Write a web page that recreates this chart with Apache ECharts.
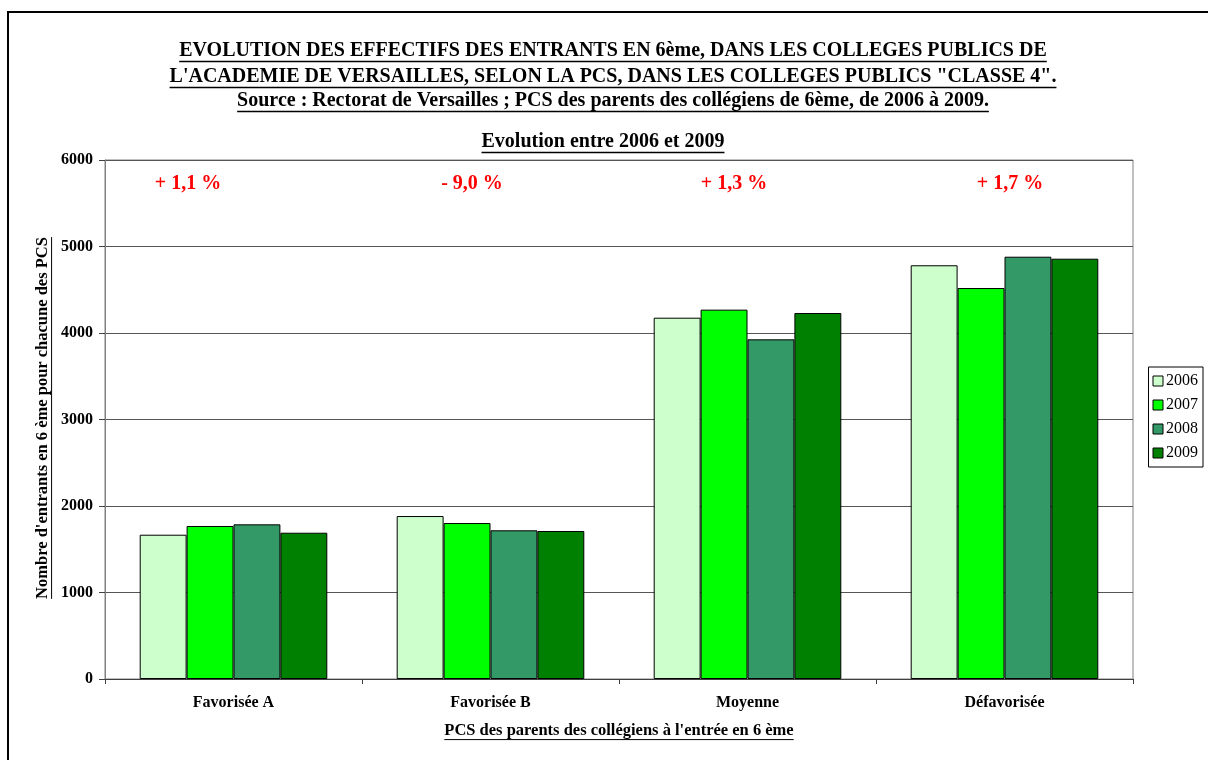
<!DOCTYPE html>
<html>
<head>
<meta charset="utf-8">
<script src="https://cdn.jsdelivr.net/npm/echarts@6/dist/echarts.min.js"></script>
<style>
  html, body { margin: 0; padding: 0; background: #fff; }
  #chart { width: 1208px; height: 760px; }
</style>
</head>
<body>
<div id="chart"></div>
<script>
// données
const categories = ['Favorisée A', 'Favorisée B', 'Moyenne', 'Défavorisée'];
const years = ['2006', '2007', '2008', '2009'];
const values2006 = [1668, 1884, 4177, 4783];
const values2007 = [1769, 1803, 4270, 4520];
const values2008 = [1788, 1719, 3927, 4882];
const values2009 = [1691, 1711, 4231, 4859];
const evolutions = ['+ 1,1 %', '- 9,0 %', '+ 1,3 %', '+ 1,7 %'];
const colors = ['#CCFFCC', '#00FF00', '#339966', '#008000'];

const FONT = '"Liberation Serif", "Times New Roman", serif';

const measureCtx = document.createElement('canvas').getContext('2d');
function textWidth(str, size) {
    measureCtx.font = 'bold ' + size + 'px ' + FONT;
    return measureCtx.measureText(str).width;
}

// texte souligné centré sur (cx, cy)
function underlined(str, cx, cy, size, rotation) {
    const w = textWidth(str, size);
    return {
        type: 'group',
        x: cx, y: cy,
        rotation: rotation || 0,
        children: [
            {
                type: 'text',
                style: {
                    text: str, x: 0, y: 0,
                    align: 'center', verticalAlign: 'middle',
                    font: 'bold ' + size + 'px ' + FONT,
                    fill: '#000'
                }
            },
            {
                type: 'line',
                shape: { x1: -w / 2, y1: size * 0.52, x2: w / 2, y2: size * 0.52 },
                style: { stroke: '#000', lineWidth: size >= 18 ? 1.5 : 1 }
            }
        ]
    };
}

const chart = echarts.init(document.getElementById('chart'));

const seriesData = [values2006, values2007, values2008, values2009];

const labelX = [188, 472, 734, 1010];

chart.setOption({
    backgroundColor: '#fff',
    animation: false,
    color: colors,
    grid: { left: 105, right: 75, top: 160, bottom: 81, show: true, borderColor: '#808080', borderWidth: 1 },
    legend: {
        orient: 'vertical',
        right: 5, top: 367,
        icon: 'rect',
        itemWidth: 10, itemHeight: 10, itemGap: 8,
        borderColor: '#000', borderWidth: 1,
        padding: [6, 5, 6, 4],
        textStyle: { fontFamily: FONT, fontSize: 16, color: '#000', padding: [0, 0, 0, -2] },
        data: years.map(y => ({ name: y, itemStyle: { borderColor: '#000', borderWidth: 1 } }))
    },
    xAxis: {
        type: 'category',
        data: categories,
        axisLine: { lineStyle: { color: '#404040', width: 1 } },
        axisTick: { show: true, length: 5, alignWithLabel: false, lineStyle: { color: '#404040' } },
        axisLabel: { fontFamily: FONT, fontWeight: 'bold', fontSize: 16, color: '#000', margin: 16 }
    },
    yAxis: {
        type: 'value',
        min: 0, max: 6000, interval: 1000,
        axisLine: { show: true, lineStyle: { color: '#808080' } },
        axisTick: { show: true, length: 6, lineStyle: { color: '#404040' } },
        axisLabel: { fontFamily: FONT, fontWeight: 'bold', fontSize: 16, color: '#000', margin: 12, formatter: v => String(v) },
        splitLine: { lineStyle: { color: '#555', width: 1 } }
    },
    series: seriesData.map((d, i) => ({
        name: years[i],
        type: 'bar',
        data: d,
        barGap: '0%',
        barCategoryGap: '27%',
        itemStyle: { color: colors[i], borderColor: '#000', borderWidth: 1 }
    })),
    graphic: [
        { type: 'rect', shape: { x: 8, y: 12, width: 1220, height: 770 }, style: { fill: 'none', stroke: '#000', lineWidth: 2 } },
        underlined('EVOLUTION DES EFFECTIFS DES ENTRANTS EN 6ème, DANS LES COLLEGES PUBLICS DE', 613, 51, 20),
        underlined('L\'ACADEMIE DE VERSAILLES, SELON LA PCS, DANS LES COLLEGES PUBLICS "CLASSE 4".', 613, 77, 20),
        underlined('Source : Rectorat de Versailles ; PCS des parents des collégiens de 6ème, de 2006 à 2009.', 613, 101, 20),
        underlined('Evolution entre 2006 et 2009', 603, 142, 20),
        underlined('PCS des parents des collégiens à l\'entrée en 6 ème', 619, 731, 16.5),
        underlined('Nombre d\'entrants en 6 ème pour chacune des PCS', 43, 418, 16.5, Math.PI / 2)
    ].concat(evolutions.map((t, i) => ({
        type: 'text',
        x: labelX[i], y: 184,
        style: {
            text: t, align: 'center', verticalAlign: 'middle',
            font: 'bold 20px ' + FONT, fill: '#FF0000'
        }
    })))
});
</script>
</body>
</html>
